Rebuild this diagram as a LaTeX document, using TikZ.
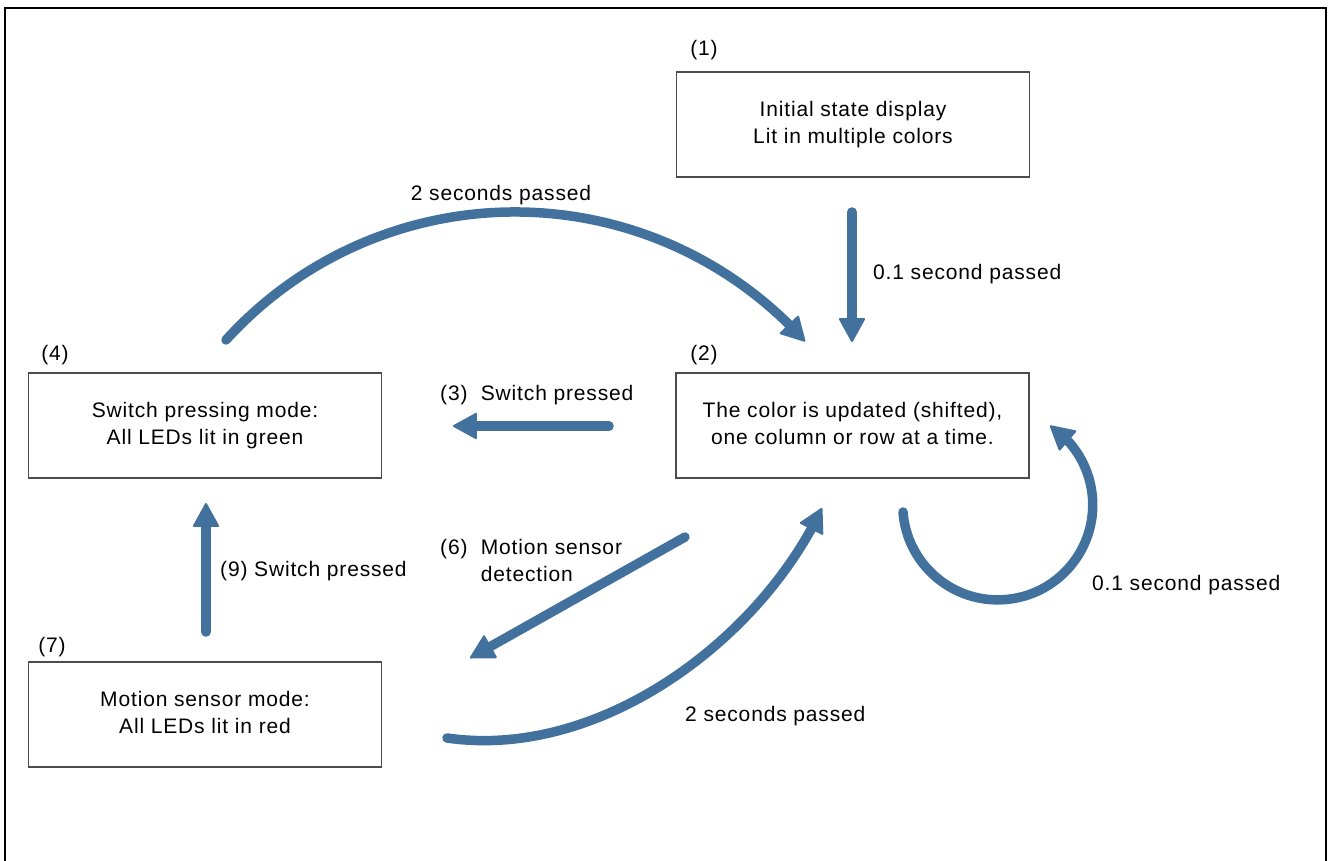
\documentclass[tikz,border=0pt]{standalone}
\usepackage{fontspec}
\setmainfont{Liberation Sans}[LetterSpace=4]
\usetikzlibrary{arrows.meta,bending}
\definecolor{arr}{RGB}{66,113,158}
\begin{document}
\begin{tikzpicture}[x=1pt,y=-1pt,
  txt/.style={font=\fontsize{21}{27}\selectfont, inner sep=0pt, align=center},
  lbl/.style={txt, yshift=-2.5pt},
  box/.style={txt, draw=black!70, line width=1.2pt, minimum width=353pt, minimum height=105pt},
  flow/.style={draw=arr, line width=9.5pt, line cap=round,
    -{Triangle[width=27pt,length=25pt,line width=2pt,round]}}]
\useasboundingbox (0,0) rectangle (1328,861);
\draw[line width=2.4pt] (5,8) -- (1326,8) -- (1326,880) -- (5,880) -- cycle;

% boxes
\node[box] (b1) at (853,124.5) {\raisebox{-2pt}{\begin{tabular}{@{}c@{}}Initial state display\\Lit in multiple colors\end{tabular}}};
\node[box] (b2) at (852.5,425.5) {\raisebox{-2pt}{\begin{tabular}{@{}c@{}}The color is updated (shifted),\\one column or row at a time.\end{tabular}}};
\node[box] (b4) at (205,425.5) {\raisebox{-2pt}{\begin{tabular}{@{}c@{}}Switch pressing mode:\\All LEDs lit in green\end{tabular}}};
\node[box] (b7) at (205,714.5) {\raisebox{-2pt}{\begin{tabular}{@{}c@{}}Motion sensor mode:\\All LEDs lit in red\end{tabular}}};

% box labels
\node[lbl] (l1) at (704,48) {(1)};
\node[lbl] (l2) at (704,353) {(2)};
\node[lbl] (l4) at (55,353) {(4)};
\node[lbl] (l7) at (52,645) {(7)};

% connector end points
\coordinate (a1s) at (852,212); \coordinate (a1e) at (852,342);
\coordinate (a3s) at (609,426); \coordinate (a3e) at (453,426);
\coordinate (a9s) at (206,632); \coordinate (a9e) at (206,503);
\coordinate (a6s) at (685,537); \coordinate (a6e) at (470,658);
\coordinate (a42s) at (226,340);
\coordinate (asl) at (903,512);
\coordinate (a72s) at (447,738); \coordinate (a72e) at (822,508);

% connectors
\draw[flow] (a1s) -- (a1e);
\draw[flow] (a3s) -- (a3e);
\draw[flow] (a9s) -- (a9e);
\draw[flow] (a6s) -- (a6e);
\draw[flow] (a42s) arc[start angle=222.2, end angle=318.1, radius=390];
\draw[flow] (asl) arc[start angle=175.7, end angle=-56.6, radius=95];
\draw[flow] (a72s) .. controls (600,760) and (760,640) .. (a72e);

% connector labels
\node[lbl, anchor=west] (t1) at (873,272) {0.1 second passed};
\node[lbl] (t42) at (501,193) {2 seconds passed};
\node[lbl, anchor=west] (t3) at (440,393) {(3)~~Switch pressed};
\node[lbl, anchor=north west, align=left] (t6) at (440,537) {(6)~~Motion sensor\\\hphantom{(6)~~}detection};
\node[lbl, anchor=west] (t9) at (220,569) {(9)~Switch pressed};
\node[lbl, anchor=west] (t72) at (685,714) {2 seconds passed};
\node[lbl, anchor=west] (tsl) at (1092,583) {0.1 second passed};
\end{tikzpicture}
\end{document}
